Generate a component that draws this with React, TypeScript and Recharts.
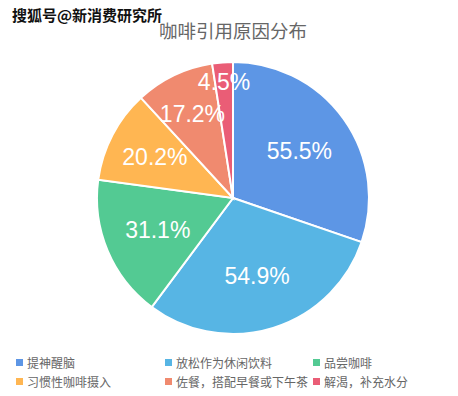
import { PieChart, Pie, Cell, Legend } from "recharts";

const categories = [
  "提神醒脑",
  "放松作为休闲饮料",
  "品尝咖啡",
  "习惯性咖啡摄入",
  "佐餐，搭配早餐或下午茶",
  "解渴，补充水分",
];
const values = [55.5, 54.9, 31.1, 20.2, 17.2, 4.5];
const colors = ["#5d96e5", "#57b5e4", "#53ca93", "#ffb652", "#f08a6f", "#ea5d76"];

const data = categories.map((name, i) => ({ name, value: values[i] }));

const RADIAN = Math.PI / 180;

const renderLabel = ({ cx, cy, midAngle, outerRadius, percent, value }) => {
  // small slices push their label outward
  const k = 0.6 + Math.max(0, 0.13 - percent) * 2.4;
  const r = outerRadius * k;
  const x = cx + r * Math.cos(-midAngle * RADIAN);
  const y = cy + r * Math.sin(-midAngle * RADIAN);
  return (
    <text
      x={x}
      y={y}
      fill="#fff"
      fontSize={23}
      fontFamily="'Liberation Sans', Arial, sans-serif"
      textAnchor="middle"
      dominantBaseline="central"
    >
      {value.toFixed(1)}%
    </text>
  );
};

const renderLegend = () => (
  <div
    style={{
      display: "grid",
      gridTemplateColumns: "149px 148px 140px",
      rowGap: 5,
      paddingLeft: 16,
      fontFamily: "'Noto Sans CJK SC', sans-serif",
      fontSize: 12,
      color: "#666",
    }}
  >
    {categories.map((c, i) => (
      <div key={c} style={{ display: "flex", alignItems: "center", height: 14 }}>
        <span
          style={{
            width: 7,
            height: 7,
            background: colors[i],
            display: "inline-block",
            marginRight: 4,
          }}
        />
        <span>{c}</span>
      </div>
    ))}
  </div>
);

export default function App() {
  return (
    <div
      style={{
        position: "absolute",
        left: 0,
        top: 0,
        width: 458,
        height: 396,
        background: "#fff",
      }}
    >
      <PieChart width={458} height={396} margin={{ top: 0, right: 0, bottom: 0, left: 0 }}>
        <Pie
          data={data}
          dataKey="value"
          nameKey="name"
          cx={233}
          cy={198}
          outerRadius={136}
          startAngle={90}
          endAngle={-270}
          stroke="#fff"
          strokeWidth={2}
          labelLine={false}
          label={renderLabel}
          isAnimationActive={false}
        >
          {data.map((d, i) => (
            <Cell key={d.name} fill={colors[i]} />
          ))}
        </Pie>
        <Legend
          content={renderLegend}
          wrapperStyle={{ position: "absolute", left: 0, top: 355, width: 458 }}
        />
      </PieChart>
      <div
        style={{
          position: "absolute",
          left: 0,
          top: 19,
          width: 466,
          textAlign: "center",
          fontFamily: "'Noto Sans CJK SC', sans-serif",
          fontSize: 18.5,
          lineHeight: "22px",
          color: "#666",
        }}
      >
        咖啡引用原因分布
      </div>
      <div
        style={{
          position: "absolute",
          left: 12,
          top: 5,
          fontFamily: "'Noto Sans CJK SC', sans-serif",
          fontSize: 15,
          fontWeight: "bold",
          lineHeight: "20px",
          color: "#111",
          textShadow:
            "1px 0 #fff, -1px 0 #fff, 0 1px #fff, 0 -1px #fff, 1px 1px #fff, -1px -1px #fff, 1px -1px #fff, -1px 1px #fff",
        }}
      >
        搜狐号@新消费研究所
      </div>
    </div>
  );
}
